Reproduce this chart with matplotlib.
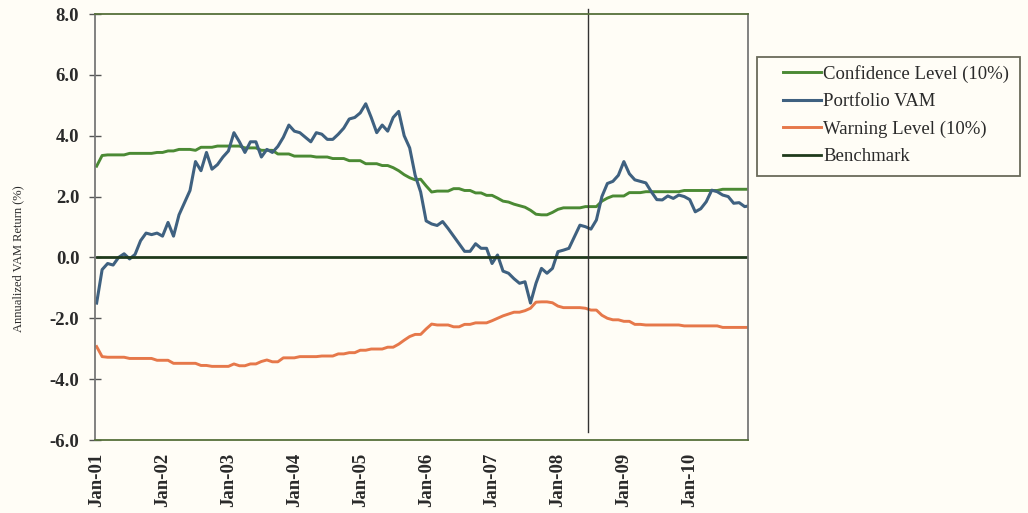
import numpy as np
import matplotlib
matplotlib.use("Agg")
import matplotlib.pyplot as plt
from matplotlib.patches import Rectangle

# monthly series, Jan 2001 .. Dec 2010 (annualized %, one value per month)
confidence = [
    3.00, 3.35, 3.37, 3.37, 3.37, 3.37, 3.42, 3.42, 3.42, 3.42,
    3.42, 3.45, 3.45, 3.50, 3.50, 3.55, 3.55, 3.55, 3.52, 3.62,
    3.62, 3.62, 3.66, 3.66, 3.66, 3.66, 3.66, 3.60, 3.60, 3.60,
    3.52, 3.52, 3.52, 3.40, 3.40, 3.40, 3.33, 3.33, 3.33, 3.33,
    3.30, 3.30, 3.30, 3.25, 3.25, 3.25, 3.18, 3.18, 3.18, 3.08,
    3.08, 3.08, 3.02, 3.02, 2.95, 2.85, 2.72, 2.62, 2.55, 2.57,
    2.35, 2.15, 2.18, 2.18, 2.18, 2.26, 2.26, 2.20, 2.20, 2.12,
    2.12, 2.04, 2.04, 1.95, 1.85, 1.82, 1.75, 1.70, 1.65, 1.55,
    1.42, 1.40, 1.40, 1.48, 1.58, 1.63, 1.63, 1.63, 1.63, 1.67,
    1.67, 1.67, 1.85, 1.95, 2.02, 2.02, 2.02, 2.13, 2.13, 2.13,
    2.16, 2.16, 2.16, 2.16, 2.16, 2.16, 2.16, 2.20, 2.20, 2.20,
    2.20, 2.20, 2.20, 2.20, 2.24, 2.24, 2.24, 2.24, 2.24, 2.24,
]
portfolio = [
    -1.50, -0.40, -0.20, -0.25, 0.00, 0.12, -0.05, 0.10, 0.55, 0.80,
    0.75, 0.80, 0.70, 1.15, 0.70, 1.40, 1.80, 2.20, 3.15, 2.85,
    3.45, 2.90, 3.05, 3.30, 3.50, 4.10, 3.80, 3.45, 3.80, 3.80,
    3.30, 3.55, 3.45, 3.65, 3.95, 4.35, 4.15, 4.10, 3.95, 3.80,
    4.10, 4.05, 3.88, 3.88, 4.05, 4.25, 4.55, 4.60, 4.75, 5.05,
    4.60, 4.10, 4.35, 4.15, 4.60, 4.80, 4.00, 3.60, 2.70, 2.15,
    1.20, 1.10, 1.05, 1.18, 0.95, 0.70, 0.45, 0.20, 0.20, 0.45,
    0.30, 0.30, -0.20, 0.08, -0.45, -0.52, -0.70, -0.85, -0.80, -1.50,
    -0.85, -0.36, -0.52, -0.36, 0.19, 0.24, 0.30, 0.68, 1.06, 1.01,
    0.93, 1.23, 2.00, 2.43, 2.50, 2.70, 3.15, 2.75, 2.55, 2.50,
    2.45, 2.16, 1.90, 1.89, 2.02, 1.94, 2.05, 2.00, 1.90, 1.50,
    1.60, 1.83, 2.21, 2.16, 2.05, 2.00, 1.78, 1.80, 1.67, 1.70,
]
warning = [
    -2.93, -3.26, -3.28, -3.28, -3.28, -3.28, -3.32, -3.32, -3.32, -3.32,
    -3.32, -3.38, -3.38, -3.38, -3.48, -3.48, -3.48, -3.48, -3.48, -3.55,
    -3.55, -3.58, -3.58, -3.58, -3.58, -3.50, -3.56, -3.56, -3.50, -3.50,
    -3.42, -3.37, -3.43, -3.43, -3.30, -3.30, -3.30, -3.26, -3.26, -3.26,
    -3.26, -3.24, -3.24, -3.24, -3.17, -3.17, -3.13, -3.13, -3.05, -3.05,
    -3.01, -3.01, -3.01, -2.95, -2.95, -2.85, -2.72, -2.60, -2.53, -2.53,
    -2.35, -2.19, -2.22, -2.22, -2.22, -2.28, -2.28, -2.20, -2.20, -2.15,
    -2.15, -2.15, -2.08, -2.00, -1.92, -1.86, -1.80, -1.80, -1.75, -1.67,
    -1.47, -1.46, -1.46, -1.49, -1.60, -1.65, -1.65, -1.65, -1.65, -1.67,
    -1.73, -1.73, -1.90, -2.00, -2.05, -2.05, -2.10, -2.10, -2.20, -2.20,
    -2.22, -2.22, -2.22, -2.22, -2.22, -2.22, -2.22, -2.25, -2.25, -2.25,
    -2.25, -2.25, -2.25, -2.25, -2.30, -2.30, -2.30, -2.30, -2.30, -2.30,
]
benchmark = [0.0] * 120
year_labels = ["Jan-01", "Jan-02", "Jan-03", "Jan-04", "Jan-05",
               "Jan-06", "Jan-07", "Jan-08", "Jan-09", "Jan-10"]
marker_month = 89.5  # vertical reference line, mid-2008

months = np.arange(len(portfolio))

plt.rcParams["font.family"] = ["Liberation Serif", "DejaVu Serif"]
bg = "#fffdf6"
txt = "#2a2a2a"

fig = plt.figure(figsize=(10.28, 5.13), dpi=100, facecolor=bg)
ax = fig.add_axes([0.0924, 0.1423, 0.6352, 0.8304], facecolor=bg)

ax.plot(months, confidence, color="#4b8a34", lw=2.1, label="Confidence Level (10%)")
ax.plot(months, portfolio, color="#3f6180", lw=2.2, label="Portfolio VAM")
ax.plot(months, warning, color="#e6784a", lw=2.1, label="Warning Level (10%)")
ax.plot(months, benchmark, color="#1f3a1c", lw=2.0, label="Benchmark")
ax.plot([marker_month, marker_month], [8.15, -5.75], color="#333333",
        lw=1.0, clip_on=False)

ax.set_xlim(-0.3, 118.6)
ax.set_ylim(-6, 8)
yt = np.arange(-6, 8.1, 2)
ax.set_yticks(yt)
ax.set_yticklabels([f"{v:.1f}" for v in yt], fontsize=13.5,
                   fontweight="bold", color=txt)
ax.set_xticks(np.arange(0, 120, 12))
ax.set_xticklabels(year_labels, rotation=90, fontsize=13.5,
                   fontweight="bold", color=txt)
ax.tick_params(axis="y", direction="inout", length=8.5, width=1.0,
               color="#555555", pad=7)
ax.tick_params(axis="x", length=0, pad=9)
ax.set_ylabel("Annualized VAM Return (%)", fontsize=9, color=txt)
ax.yaxis.set_label_coords(-0.108, 0.425)

for side in ("top", "bottom"):
    ax.spines[side].set_color("#56703a")
    ax.spines[side].set_linewidth(1.3)
for side in ("left", "right"):
    ax.spines[side].set_color("#777777")
    ax.spines[side].set_linewidth(1.3)

# legend box on the right, frame drawn separately for wider side padding
W, H = 1028, 513
fig.patches.append(Rectangle((757 / W, 1 - 176 / H), (1020 - 757) / W,
                             (176 - 57) / H, transform=fig.transFigure,
                             facecolor=bg, edgecolor="#6a6a5a", lw=1.3,
                             zorder=1))
leg = fig.legend(loc="upper left", bbox_to_anchor=(783 / W, 1 - 65 / H),
                 fontsize=13.5, frameon=False, handlelength=2.0,
                 handletextpad=0.15, borderpad=0, labelspacing=0.55,
                 borderaxespad=0)
for t in leg.get_texts():
    t.set_color(txt)
leg.set_zorder(2)

fig.savefig("out.png", dpi=100, facecolor=bg)
